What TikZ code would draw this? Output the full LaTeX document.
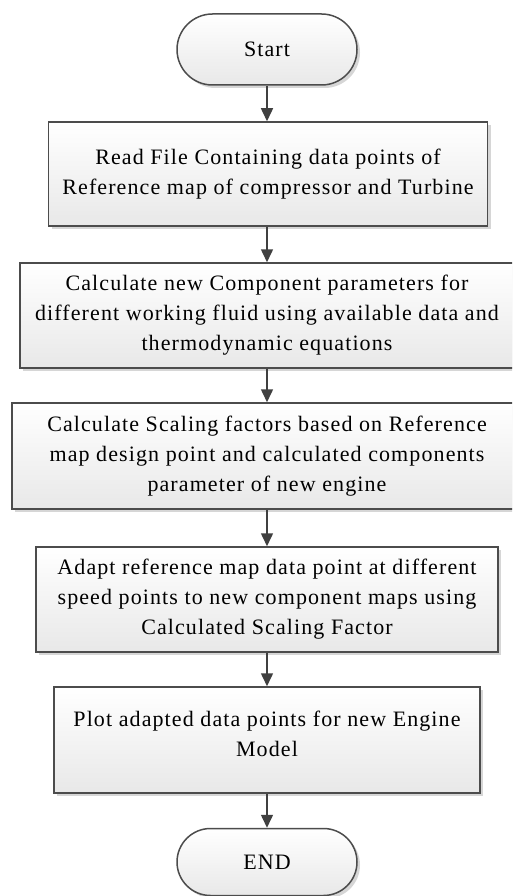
\documentclass[tikz,border=0pt]{standalone}
\usepackage{fontspec}
\setmainfont[LetterSpace=5]{Liberation Serif}
\usetikzlibrary{shapes.misc,shadows,arrows.meta}

\tikzset{
  flowbox/.style={rectangle, draw=black!70, line width=1.5pt,
    top color=white, bottom color=black!9,
    drop shadow={shadow xshift=3pt, shadow yshift=-3pt, opacity=0.35, fill=black!45},
    align=center, inner sep=0pt,
    font=\fontsize{22}{30}\selectfont},
  terminal/.style={flowbox, rounded rectangle},
  flowarrow/.style={draw=black!75, line width=1.5pt,
    -{Triangle[length=13pt,width=12pt]}}
}

\begin{document}
\begin{tikzpicture}[x=1pt,y=-1pt]
\useasboundingbox (0,0) rectangle (512,896);
\clip (0,0) rectangle (512,896);
\fill[white] (0,0) rectangle (512,896);

\node[terminal, minimum width=180pt, minimum height=71pt] (start) at (267,49.5) {Start};

\node[flowbox, minimum width=439pt, minimum height=104pt] (read) at (268,174)
  {Read File Containing data points of\\Reference map of compressor and Turbine};

\node[flowbox, minimum width=494pt, minimum height=105pt] (param) at (267,315.5)
  {Calculate new Component parameters for\\different working fluid using available data and\\thermodynamic equations};

\node[flowbox, minimum width=510pt, minimum height=106pt] (scale) at (267,456)
  {Calculate Scaling factors based on Reference\\map design point and calculated components\\parameter of new engine};

\node[flowbox, minimum width=462pt, minimum height=105pt] (adapt) at (267,599.5)
  {Adapt reference map data point at different\\speed points to new component maps using\\Calculated Scaling Factor};

\node[flowbox, minimum width=426pt, minimum height=106pt] (plot) at (267,740)
  {Plot adapted data points for new Engine\\Model\strut\vspace{4pt}};

\node[terminal, minimum width=180pt, minimum height=67pt] (finish) at (267,862) {END};

\draw[flowarrow] (start.south) -- (read.north -| start.south);
\draw[flowarrow] (read.south -| start.south) -- (param.north);
\draw[flowarrow] (param.south) -- (scale.north);
\draw[flowarrow] (scale.south) -- (adapt.north);
\draw[flowarrow] (adapt.south) -- (plot.north);
\draw[flowarrow] (plot.south) -- (finish.north);
\end{tikzpicture}
\end{document}
